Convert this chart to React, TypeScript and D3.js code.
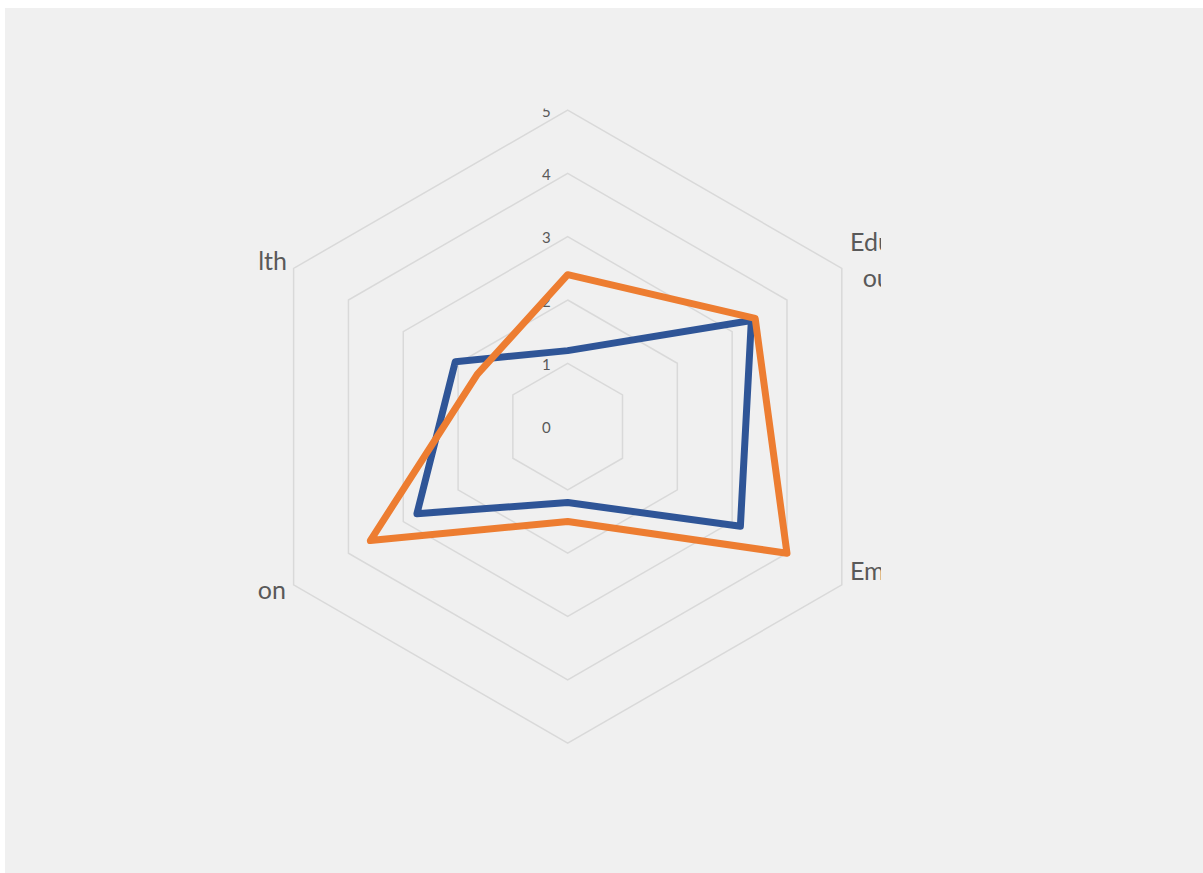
import React from "react";
import * as d3 from "d3";

const categories = ["Income", "Education outcomes", "Employment", "Housing", "Participation", "Health"];
const seriesBlue = [1.2, 3.35, 3.15, 1.2, 2.75, 2.05];
const seriesOrange = [2.4, 3.42, 4.0, 1.5, 3.6, 1.65];
const tickValues = [0, 1, 2, 3, 4, 5];

const W = 1198;
const H = 865;
const OX = 5;
const OY = 8;

export default function App() {
  const cx = 567.7 - OX;
  const cy = 426.6 - OY;
  const r = d3.scaleLinear().domain([0, 5]).range([0, 316.5]);
  const n = categories.length;
  const angle = (i: number) => (i * 2 * Math.PI) / n;

  const radial = d3
    .lineRadial<number>()
    .angle((_, i) => angle(i))
    .radius((v) => r(v))
    .curve(d3.curveLinearClosed);

  const labelPos: { lines: string[]; x: number; y: number; anchor: string; dy: number }[] = [
    { lines: ["Income"], x: 567.7, y: 92, anchor: "middle", dy: 0 },
    { lines: ["Education", "outcomes"], x: 850, y: 251, anchor: "start", dy: 36 },
    { lines: ["Employment"], x: 850, y: 580, anchor: "start", dy: 0 },
    { lines: ["Housing"], x: 567.7, y: 775, anchor: "middle", dy: 0 },
    { lines: ["Participation"], x: 286, y: 599, anchor: "end", dy: 0 },
    { lines: ["Health"], x: 287, y: 270, anchor: "end", dy: 0 },
  ];

  return (
    <svg
      width={W}
      height={H}
      style={{ position: "absolute", left: OX, top: OY, display: "block" }}
    >
      <defs>
        <clipPath id="plotclip">
          <rect x={257.5 - OX} y={108.5 - OY} width={881 - 257.5} height={752 - 108.5} />
        </clipPath>
      </defs>
      <rect x={0} y={0} width={W} height={H} fill="#f0f0f0" />
      <g clipPath="url(#plotclip)">
        <g transform={`translate(${cx},${cy})`}>
          {tickValues.slice(1).map((t) => (
            <path
              key={t}
              d={radial(categories.map(() => t)) || ""}
              fill="none"
              stroke="#d9d9d9"
              strokeWidth={1.5}
            />
          ))}
          {tickValues.map((t) => (
            <text
              key={"t" + t}
              x={-17}
              y={-r(t) + 6.5}
              textAnchor="end"
              fontFamily="Lato, 'Open Sans', sans-serif"
              fontSize={15}
              fill="#595959"
            >
              {t}
            </text>
          ))}
          <path
            d={radial(seriesBlue) || ""}
            fill="none"
            stroke="#2F5597"
            strokeWidth={7}
            strokeLinejoin="round"
          />
          <path
            d={radial(seriesOrange) || ""}
            fill="none"
            stroke="#ED7D31"
            strokeWidth={7}
            strokeLinejoin="round"
          />
        </g>
        {labelPos.map((l, i) => (
          <text
            key={"l" + i}
            textAnchor={l.anchor}
            fontFamily="Lato, 'Open Sans', sans-serif"
            fontSize={25}
            fill="#595959"
          >
            {l.lines.map((line, j) => (
              <tspan key={j} x={l.x - OX + (j > 0 ? 12.7 : 0)} y={l.y - OY + j * l.dy}>
                {line}
              </tspan>
            ))}
          </text>
        ))}
      </g>
    </svg>
  );
}
